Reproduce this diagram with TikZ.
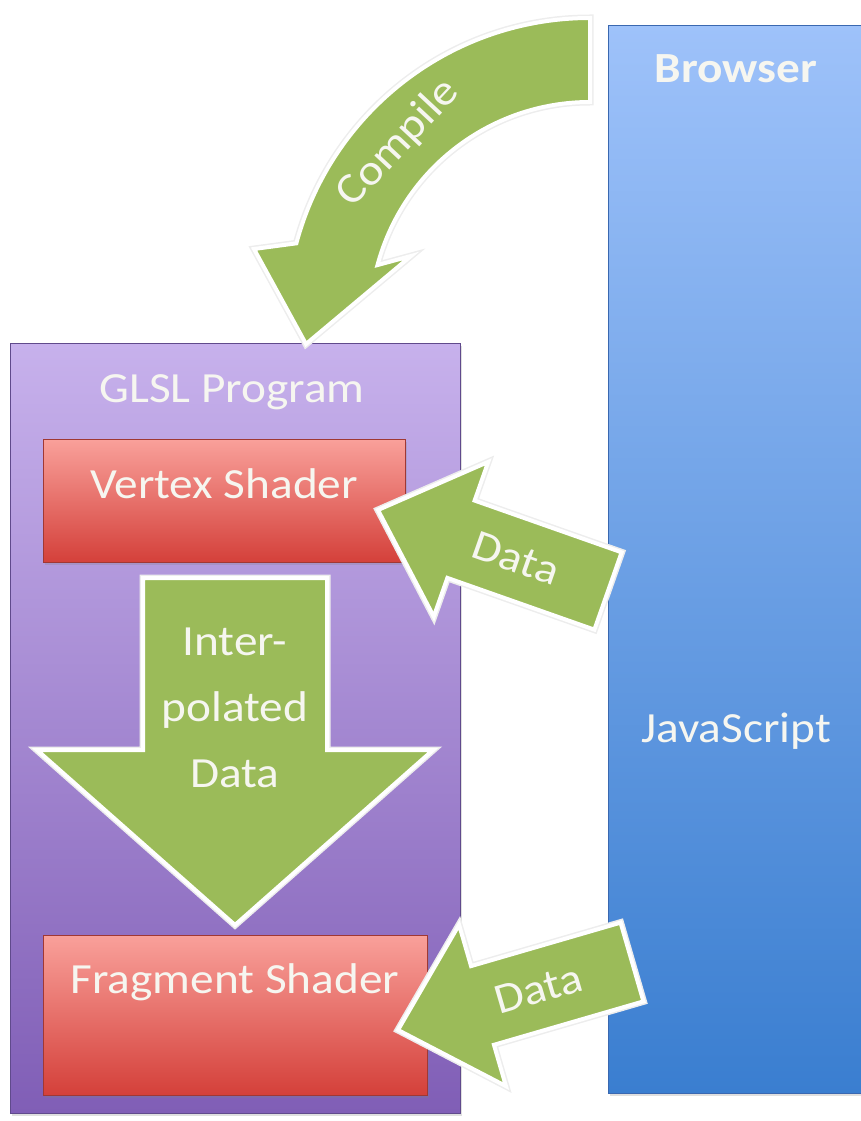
\documentclass[tikz,border=0pt]{standalone}
\usepackage{fontspec}
\setmainfont{Carlito}[FakeStretch=1.1]
\usepackage{tikz}
\usetikzlibrary{calc,shadows}
\definecolor{arrowgreen}{RGB}{155,187,89}
\definecolor{glsltop}{RGB}{199,177,236}
\definecolor{glslbot}{RGB}{128,94,182}
\definecolor{glslline}{RGB}{96,74,140}
\definecolor{shadetop}{RGB}{249,160,154}
\definecolor{shadebot}{RGB}{212,64,58}
\definecolor{shadeline}{RGB}{160,56,52}
\definecolor{jstop}{RGB}{158,194,250}
\definecolor{jsbot}{RGB}{58,126,208}
\definecolor{jsline}{RGB}{58,104,176}
\definecolor{paletext}{RGB}{246,246,240}

% block arrow: tail, tip, half shaft, half head, head length
\newcommand{\blockarrow}[5]{%
  \coordinate (#2-base) at ($(#2)!#5!(#1)$);
  \filldraw[bigarrow] (#2) -- ($(#2-base)!#4!90:(#2)$) -- ($(#2-base)!#3!90:(#2)$)
    -- ($(#1)!#3!90:(#2)$) -- ($(#1)!#3!-90:(#2)$) -- ($(#2-base)!#3!-90:(#2)$)
    -- ($(#2-base)!#4!-90:(#2)$) -- cycle;
}

\begin{document}
\begin{tikzpicture}[x=1pt, y=1pt,
    bigarrow/.style={fill=arrowgreen, draw=white, line width=4pt, line join=miter,
                     preaction={draw=black!7, line width=7pt, line join=miter}},
    panel/.style={rectangle, anchor=north west, inner sep=0pt, line width=0.9pt,
                  drop shadow={opacity=0.25, shadow xshift=2pt, shadow yshift=-3pt}},
    glslbox/.style={panel, draw=glslline, top color=glsltop, bottom color=glslbot},
    shaderbox/.style={panel, draw=shadeline, top color=shadetop, bottom color=shadebot},
    jsbox/.style={panel, draw=jsline, top color=jstop, bottom color=jsbot},
    boxtext/.style={font=\fontsize{43}{66}\selectfont, text=paletext, inner sep=0pt, anchor=base},
    arrowtext/.style={font=\fontsize{43}{66}\selectfont, text=paletext, inner sep=0pt}]
\useasboundingbox (0,0) rectangle (861,-1121);
\clip (0,0) rectangle (861,-1121);

\node[jsbox, minimum width=265, minimum height=1068] (browser) at (608,-25) {};
\node[boxtext] (browsertitle) at (736,-83) {\bfseries Browser};
\node[boxtext] (jslabel) at (736,-742) {JavaScript};

\node[glslbox, minimum width=450, minimum height=770] (glsl) at (10,-343) {};
\node[boxtext] (glsltitle) at (232,-402) {GLSL Program};
\node[shaderbox, minimum width=362, minimum height=123] (vshader) at ([shift={(33,-96)}]glsl.north west) {};
\node[boxtext] (vtitle) at (224,-498) {Vertex Shader};
\node[shaderbox, minimum width=384, minimum height=160] (fshader) at ([shift={(33,-592)}]glsl.north west) {};
\node[boxtext] (ftitle) at (235,-993) {Fragment Shader};

% compile
\coordinate (bend) at (590,-322);
\filldraw[bigarrow] ($(bend)+(90:304)$) arc[start angle=90, end angle=165, radius=304]
  -- (254,-249) -- (306,-344) -- (411,-256) -- ($(bend)+(165:220)$)
  arc[start angle=165, end angle=90, radius=220] -- cycle;
\node[arrowtext, rotate=47] (compile) at ($(bend)+(137:262)$) {Compile};

% data into the shaders
\coordinate (vs-tail) at (608,-591);
\coordinate (vs-tip) at (378,-510);
\blockarrow{vs-tail}{vs-tip}{41pt}{82pt}{88pt}
\path (vs-tip) -- (vs-tail) node[arrowtext, sloped, pos=0.6] (vdata) {Data};

\coordinate (fs-tail) at (632,-962);
\coordinate (fs-tip) at (398,-1030);
\blockarrow{fs-tail}{fs-tip}{41pt}{84pt}{88pt}
\path (fs-tip) -- (fs-tail) node[arrowtext, sloped, pos=0.6] (fdata) {Data};

\coordinate (interp-tail) at (235,-578);
\coordinate (interp-tip) at (235,-925);
\blockarrow{interp-tail}{interp-tip}{92pt}{198pt}{175pt}
\node[arrowtext, align=center] (interp) at (235,-708) {Inter-\\polated\\Data};
\end{tikzpicture}
\end{document}
